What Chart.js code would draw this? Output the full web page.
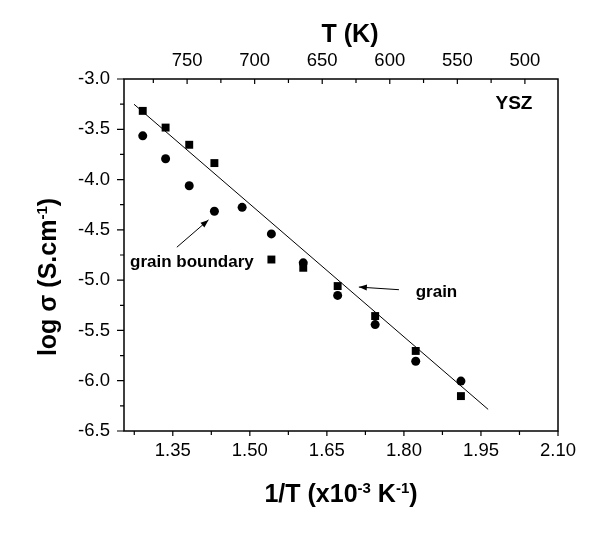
<!DOCTYPE html>
<html><head><meta charset="utf-8">
<script src="https://cdn.jsdelivr.net/npm/chart.js@4/dist/chart.umd.min.js"></script>
<style>html,body{margin:0;padding:0;background:#fff;}#wrap{width:604px;height:538px;position:relative;}</style>
</head><body><div id="wrap"><canvas id="c" width="604" height="538"></canvas></div>
<script>
// ---- data ----
const grainX = [1.2915, 1.336, 1.382, 1.431, 1.542, 1.604, 1.671, 1.744, 1.823, 1.911];
const grainLogS = [-3.317, -3.483, -3.654, -3.836, -4.795, -4.877, -5.059, -5.357, -5.704, -6.153];
const gbX = [1.2915, 1.336, 1.382, 1.431, 1.485, 1.542, 1.604, 1.671, 1.744, 1.823, 1.911];
const gbLogS = [-3.565, -3.793, -4.061, -4.315, -4.276, -4.540, -4.828, -5.152, -5.442, -5.806, -6.004];
const fitX = [1.2745, 1.964];
const fitLogS = [-3.251, -6.285];
const bottomTicks = [1.35, 1.50, 1.65, 1.80, 1.95, 2.10];
const bottomMinor = [1.275, 1.425, 1.575, 1.725, 1.875, 2.025];
const topTicks = [750, 700, 650, 600, 550, 500];
const topMinor = [775, 725, 675, 625, 575, 525];
const leftTicks = [-6.5, -6.0, -5.5, -5.0, -4.5, -4.0, -3.5, -3.0];
const leftMinor = [-6.25, -5.75, -5.25, -4.75, -4.25, -3.75, -3.25];

const FONT = '"Liberation Sans", Arial, Helvetica, sans-serif';

function pts(xs, ys) { return xs.map((x, i) => ({ x: x, y: ys[i] })); }

function drawRich(ctx, parts, x, y, size, supSize, supRise) {
  let w = 0;
  parts.forEach(p => {
    ctx.font = 'bold ' + (p.sup ? supSize : size) + 'px ' + FONT;
    p.w = ctx.measureText(p.t).width; w += p.w;
  });
  let cx = x - w / 2;
  ctx.textAlign = 'left'; ctx.textBaseline = 'alphabetic';
  parts.forEach(p => {
    ctx.font = 'bold ' + (p.sup ? supSize : size) + 'px ' + FONT;
    ctx.fillText(p.t, cx, p.sup ? y - supRise : y);
    cx += p.w;
  });
}

function arrow(ctx, x1, y1, x2, y2) {
  ctx.beginPath(); ctx.moveTo(x1, y1); ctx.lineTo(x2, y2); ctx.stroke();
  const a = Math.atan2(y2 - y1, x2 - x1), L = 8, H = 3;
  ctx.beginPath();
  ctx.moveTo(x2, y2);
  ctx.lineTo(x2 - L * Math.cos(a) + H * Math.sin(a), y2 - L * Math.sin(a) - H * Math.cos(a));
  ctx.lineTo(x2 - L * Math.cos(a) - H * Math.sin(a), y2 - L * Math.sin(a) + H * Math.cos(a));
  ctx.closePath(); ctx.fill();
}

const decor = {
  id: 'decor',
  afterDraw(chart) {
    const ctx = chart.ctx, a = chart.chartArea;
    const sx = chart.scales.x, sy = chart.scales.y, st = chart.scales.x2;
    ctx.save();
    ctx.strokeStyle = '#000'; ctx.fillStyle = '#000';
    // frame
    ctx.lineWidth = 1.5;
    ctx.strokeRect(a.left, a.top, a.right - a.left, a.bottom - a.top);
    // ticks
    ctx.lineWidth = 1.2;
    ctx.beginPath();
    bottomTicks.forEach(v => { const p = sx.getPixelForValue(v); ctx.moveTo(p, a.bottom); ctx.lineTo(p, a.bottom + 5); });
    bottomMinor.forEach(v => { const p = sx.getPixelForValue(v); ctx.moveTo(p, a.bottom); ctx.lineTo(p, a.bottom + 4); });
    leftTicks.forEach(v => { const p = sy.getPixelForValue(v); ctx.moveTo(a.left, p); ctx.lineTo(a.left - 7, p); });
    leftMinor.forEach(v => { const p = sy.getPixelForValue(v); ctx.moveTo(a.left, p); ctx.lineTo(a.left - 4, p); });
    topTicks.forEach(v => { const p = st.getPixelForValue(v); ctx.moveTo(p, a.top); ctx.lineTo(p, a.top + 5); });
    topMinor.forEach(v => { const p = st.getPixelForValue(v); ctx.moveTo(p, a.top); ctx.lineTo(p, a.top + 4); });
    ctx.stroke();
    // axis titles
    drawRich(ctx, [{ t: 'T (K)' }], 350, 42, 25, 15, 9);
    drawRich(ctx, [{ t: '1/T (x10' }, { t: '-3', sup: true }, { t: ' K' }, { t: '-1', sup: true }, { t: ')' }], 341, 502, 25, 15, 9);
    ctx.save();
    ctx.translate(56, 277); ctx.rotate(-Math.PI / 2);
    drawRich(ctx, [{ t: 'log \u03c3 (S.cm' }, { t: '-1', sup: true }, { t: ')' }], 0, 0, 25, 15, 9);
    ctx.restore();
    // annotations
    ctx.font = 'bold 19px ' + FONT; ctx.textAlign = 'center'; ctx.textBaseline = 'middle';
    ctx.fillText('YSZ', sx.getPixelForValue(2.0142), sy.getPixelForValue(-3.243));
    ctx.font = 'bold 17px ' + FONT; ctx.textAlign = 'left';
    ctx.fillText('grain boundary', sx.getPixelForValue(1.2667), sy.getPixelForValue(-4.821));
    ctx.fillText('grain', sx.getPixelForValue(1.8229), sy.getPixelForValue(-5.119));
    ctx.lineWidth = 1;
    arrow(ctx, sx.getPixelForValue(1.3579), sy.getPixelForValue(-4.6726), sx.getPixelForValue(1.4195), sy.getPixelForValue(-4.401));
    arrow(ctx, sx.getPixelForValue(1.7903), sy.getPixelForValue(-5.095), sx.getPixelForValue(1.7123), sy.getPixelForValue(-5.069));
    ctx.restore();
  }
};

const tickFont = { family: FONT, size: 18.5 };

new Chart(document.getElementById('c'), {
  type: 'scatter',
  data: {
    datasets: [
      { label: 'grain', data: pts(grainX, grainLogS), pointStyle: 'rect', pointRadius: 5.6, backgroundColor: '#000', borderWidth: 0, showLine: false },
      { label: 'grain boundary', data: pts(gbX, gbLogS), pointStyle: 'circle', pointRadius: 4.5, backgroundColor: '#000', borderWidth: 0, showLine: false },
      { label: 'fit', data: pts(fitX, fitLogS), showLine: true, pointRadius: 0, borderColor: '#000', borderWidth: 1, fill: false }
    ]
  },
  options: {
    responsive: false, animation: false, devicePixelRatio: 1,
    layout: { padding: { left: 0, right: 46, top: 0, bottom: 0 } },
    plugins: { legend: { display: false }, tooltip: { enabled: false } },
    scales: {
      x: {
        type: 'linear', position: 'bottom', min: 1.255, max: 2.10,
        grid: { display: false, drawTicks: false }, border: { display: false },
        ticks: { font: tickFont, color: '#000', padding: 9, autoSkip: false, maxRotation: 0, callback: v => Number(v).toFixed(2) },
        afterBuildTicks: s => { s.ticks = bottomTicks.map(v => ({ value: v })); },
        afterFit: s => { s.height = 107; s.paddingLeft = 0; s.paddingRight = 0; }
      },
      x2: {
        type: 'linear', position: 'top', reverse: true, min: 475.5, max: 796.7,
        grid: { display: false, drawTicks: false }, border: { display: false },
        ticks: { font: tickFont, color: '#000', padding: 7, autoSkip: false, maxRotation: 0, callback: v => String(v) },
        afterBuildTicks: s => { s.ticks = topTicks.map(v => ({ value: v })); },
        afterFit: s => { s.height = 79; s.paddingLeft = 0; s.paddingRight = 0; }
      },
      y: {
        type: 'linear', position: 'left', min: -6.5, max: -3.0,
        grid: { display: false, drawTicks: false }, border: { display: false },
        ticks: { font: tickFont, color: '#000', padding: 14, autoSkip: false, callback: v => Number(v).toFixed(1) },
        afterBuildTicks: s => { s.ticks = leftTicks.map(v => ({ value: v })); },
        afterFit: s => { s.width = 124; s.paddingTop = 0; s.paddingBottom = 0; }
      }
    }
  },
  plugins: [decor]
});
</script></body></html>
